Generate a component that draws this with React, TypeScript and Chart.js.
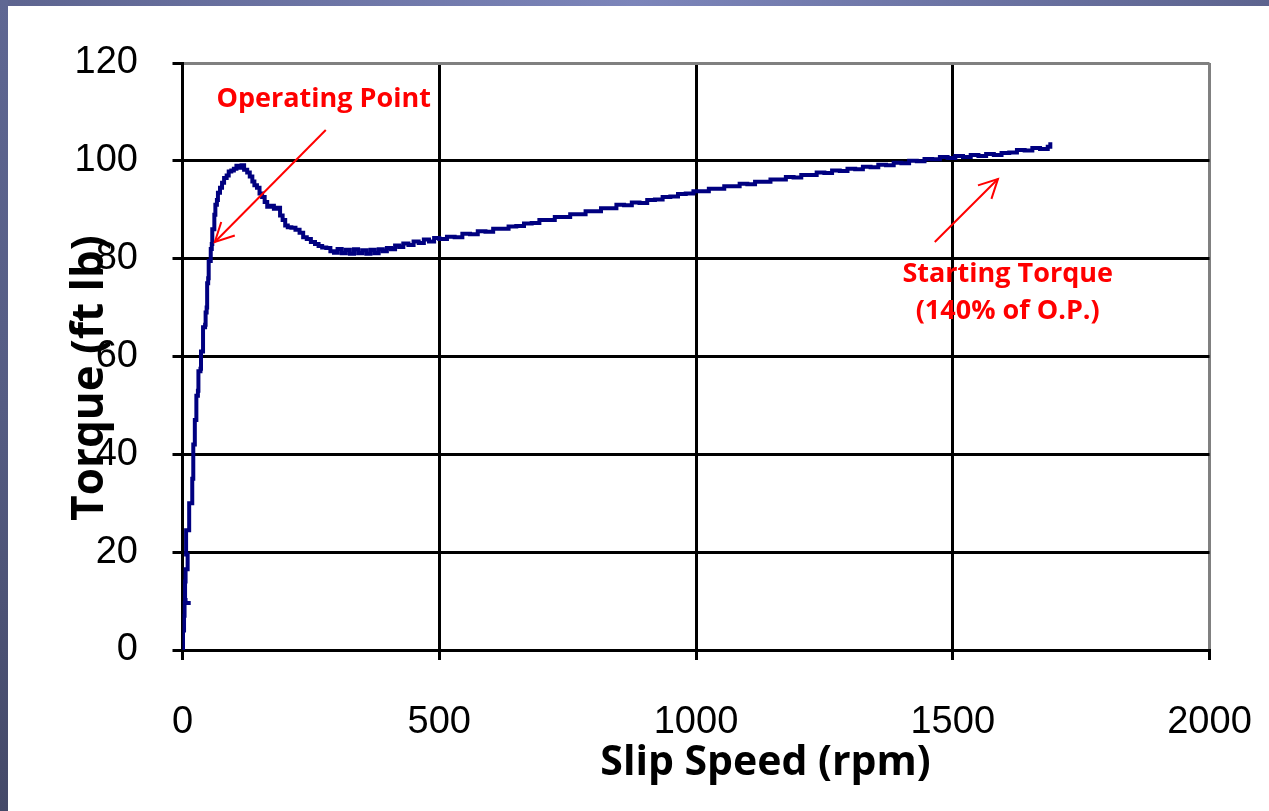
import React, { useEffect, useRef } from 'react';
import { Chart, registerables } from 'chart.js';

Chart.register(...registerables);

// ---- data ----
const slipSpeed: number[] = [
  0, 1, 3, 4, 16, 6, 5, 6, 10, 10, 7, 7, 13, 13, 19, 19, 21, 21, 24, 24,
  27, 27, 30, 31, 35, 36, 40, 40, 44, 45, 47, 48, 50, 51, 55, 55, 57, 58, 62, 62,
  64, 67, 69, 73, 77, 81, 86, 90, 95, 100, 105, 110, 115, 120, 126, 131, 136, 140, 145, 150,
  155, 160, 165, 172, 178, 184, 190, 195, 200, 205, 212, 220, 228, 235, 242, 250, 258, 265, 272, 280,
  288, 295, 302, 310, 318, 326, 334, 342, 350, 358, 366, 374, 382, 390, 398, 406, 414, 422, 430, 440,
  450, 460, 470, 480, 490, 500, 515, 530, 545, 560, 575, 590, 605, 620, 635, 650, 665, 680, 695, 710,
  725, 740, 755, 770, 785, 800, 815, 830, 845, 860, 875, 890, 905, 920, 935, 950, 965, 980, 995, 1010,
  1025, 1040, 1055, 1070, 1085, 1100, 1115, 1130, 1145, 1160, 1175, 1190, 1205, 1220, 1235, 1250, 1265, 1280, 1295, 1310,
  1325, 1340, 1355, 1370, 1385, 1400, 1415, 1430, 1445, 1460, 1475, 1490, 1505, 1520, 1535, 1550, 1565, 1580, 1595, 1610,
  1625, 1640, 1655, 1670, 1685, 1690,
];
const torque: number[] = [
  0, 4, 7, 9.6, 9.6, 10.2, 14, 16.5, 17, 19.5, 21, 24.5, 25, 30, 31, 35, 38, 42, 43, 47,
  48, 52, 53, 57, 57.5, 61, 62, 66, 66.5, 69, 70, 75, 76, 79.5, 80, 82, 83, 86, 87, 89,
  91, 92, 93.5, 94.5, 95.5, 96.5, 97, 97.8, 98, 98.4, 99, 98.6, 99.1, 98.2, 97.6, 96.8, 95.8, 95, 94.5, 93.3,
  92.6, 91.6, 90.6, 90.8, 90.2, 90.4, 88.8, 87.9, 86.8, 86.4, 86.3, 85.9, 85.3, 84.4, 84, 83.4, 83, 82.6, 82.3, 82.2,
  81.5, 81.2, 82, 81.1, 81.8, 81, 81.9, 81.1, 81.7, 81, 81.8, 81.1, 81.9, 81.5, 82.2, 81.9, 82.7, 82.4, 83.1, 82.8,
  83.5, 83.2, 83.9, 83.5, 84.2, 84.0, 84.5, 84.4, 85.1, 85.0, 85.6, 85.5, 86.1, 86.1, 86.6, 86.7, 87.2, 87.3, 87.9, 87.9,
  88.5, 88.5, 89.1, 89.1, 89.7, 89.7, 90.3, 90.3, 91.0, 90.9, 91.5, 91.4, 92.0, 92.1, 92.6, 92.7, 93.2, 93.3, 93.8, 93.8,
  94.3, 94.3, 94.8, 94.8, 95.3, 95.2, 95.7, 95.7, 96.2, 96.2, 96.7, 96.6, 97.1, 97.1, 97.6, 97.5, 98.0, 97.9, 98.4, 98.3,
  98.8, 98.7, 99.2, 99.1, 99.6, 99.5, 100.0, 99.9, 100.4, 100.3, 100.8, 100.6, 101.0, 100.8, 101.2, 101.0, 101.4, 101.2, 101.6, 101.7,
  102.2, 102.1, 102.6, 102.4, 102.9, 103.8,
];
const xTicks: number[] = [0, 500, 1000, 1500, 2000];
const yTicks: number[] = [0, 20, 40, 60, 80, 100, 120];

const xTitle = 'Slip Speed (rpm)';
const yTitle = 'Torque (ft lb)';

// annotation arrows in data units: [from, to(tip)]
const opArrowFrom: number[] = [279, 106.3];
const opArrowTo: number[] = [63, 83.4];
const stArrowFrom: number[] = [1465, 83.4];
const stArrowTo: number[] = [1588, 96.3];
const opLabel: string[] = ['Operating Point'];
const opLabelAt: number[] = [275, 111];
const stLabel: string[] = ['Starting Torque', '(140% of O.P.)'];
const stLabelAt: number[] = [1607, 75.2];

const TICK_FONT = '"Liberation Sans", Arial, sans-serif';
const TITLE_FONT = '"Open Sans", "Noto Sans", sans-serif';

const overlayPlugin = {
  id: 'overlay',
  afterDraw(chart: any) {
    const { ctx, scales } = chart;
    const x = scales.x;
    const y = scales.y;
    const area = chart.chartArea;
    ctx.save();

    const drawArrow = (from: number[], to: number[]) => {
      const x0 = x.getPixelForValue(from[0]);
      const y0 = y.getPixelForValue(from[1]);
      const x1 = x.getPixelForValue(to[0]);
      const y1 = y.getPixelForValue(to[1]);
      ctx.strokeStyle = '#ff0000';
      ctx.lineWidth = 2;
      ctx.lineCap = 'butt';
      ctx.beginPath();
      ctx.moveTo(x0, y0);
      ctx.lineTo(x1, y1);
      ctx.stroke();
      const ang = Math.atan2(y0 - y1, x0 - x1);
      const len = 21;
      const spread = (27 * Math.PI) / 180;
      ctx.beginPath();
      ctx.moveTo(x1 + len * Math.cos(ang - spread), y1 + len * Math.sin(ang - spread));
      ctx.lineTo(x1, y1);
      ctx.lineTo(x1 + len * Math.cos(ang + spread), y1 + len * Math.sin(ang + spread));
      ctx.stroke();
    };
    drawArrow(opArrowFrom, opArrowTo);
    drawArrow(stArrowFrom, stArrowTo);

    ctx.fillStyle = '#ff0000';
    ctx.font = `bold 27px ${TITLE_FONT}`;
    ctx.textAlign = 'center';
    ctx.textBaseline = 'alphabetic';
    opLabel.forEach((t, i) => {
      ctx.fillText(t, x.getPixelForValue(opLabelAt[0]), y.getPixelForValue(opLabelAt[1]) + i * 37);
    });
    stLabel.forEach((t, i) => {
      ctx.fillText(t, x.getPixelForValue(stLabelAt[0]), y.getPixelForValue(stLabelAt[1]) + i * 37);
    });

    // axis titles
    ctx.fillStyle = '#000000';
    ctx.font = `bold 41px ${TITLE_FONT}`;
    ctx.textAlign = 'center';
    ctx.textBaseline = 'alphabetic';
    ctx.fillText(xTitle, area.left + 583, area.bottom + 125);

    ctx.save();
    ctx.translate(area.left - 80, area.top + 315);
    ctx.rotate(-Math.PI / 2);
    ctx.font = `bold 44px ${TITLE_FONT}`;
    ctx.fillText(yTitle, 0, 0);
    ctx.restore();

    ctx.restore();
  },
};

export default function App() {
  const canvasRef = useRef<HTMLCanvasElement | null>(null);

  useEffect(() => {
    const canvas = canvasRef.current;
    if (!canvas) return;
    const points = slipSpeed.map((s, i) => ({ x: s, y: torque[i] }));
    const chart = new Chart(canvas, {
      type: 'line',
      data: {
        datasets: [
          {
            label: 'Torque',
            data: points,
            borderColor: '#000080',
            backgroundColor: '#000080',
            borderWidth: 4,
            pointRadius: 0,
            stepped: true,
            fill: false,
          },
        ],
      },
      options: {
        responsive: false,
        animation: false,
        events: [],
        layout: { padding: { left: 0, right: 59.5, top: 63, bottom: 0 } },
        plugins: {
          legend: { display: false },
          tooltip: { enabled: false },
          title: { display: false },
        },
        scales: {
          x: {
            type: 'linear',
            position: 'bottom',
            min: 0,
            max: 2000,
            afterBuildTicks: (s: any) => {
              s.ticks = xTicks.map((v) => ({ value: v }));
            },
            afterFit: (s: any) => {
              s.height = 161;
              s.paddingLeft = 0;
              s.paddingRight = 0;
            },
            ticks: {
              autoSkip: false,
              maxRotation: 0,
              color: '#000000',
              padding: 40,
              font: { family: TICK_FONT, size: 38 },
              callback: (v: any) => String(v),
            },
            grid: {
              color: (c: any) => (c.tick && c.tick.value === 2000 ? '#808080' : '#000000'),
              tickColor: '#000000',
              lineWidth: 3,
              tickLength: 10,
            },
            border: { color: '#000000', width: 3 },
          },
          y: {
            type: 'linear',
            min: 0,
            max: 120,
            afterBuildTicks: (s: any) => {
              s.ticks = yTicks.map((v) => ({ value: v }));
            },
            afterFit: (s: any) => {
              s.width = 182.5;
              s.paddingTop = 0;
              s.paddingBottom = 0;
            },
            ticks: {
              color: '#000000',
              padding: 34.5,
              font: { family: TICK_FONT, size: 38 },
              callback: (v: any) => String(v),
            },
            grid: {
              color: (c: any) => (c.tick && c.tick.value === 120 ? '#808080' : '#000000'),
              tickColor: '#000000',
              lineWidth: 3,
              tickLength: 10,
            },
            border: { color: '#000000', width: 3 },
          },
        },
      },
      plugins: [overlayPlugin],
    });
    return () => chart.destroy();
  }, []);

  return (
    <div style={{ position: 'fixed', left: 0, top: 0, width: 1269, height: 811, background: '#ffffff', overflow: 'hidden' }}>
      <div
        style={{
          position: 'absolute',
          left: 0,
          top: 0,
          width: 1269,
          height: 6,
          background: 'linear-gradient(to right, #5d648f 0%, #7c85ba 50%, #5d648f 100%)',
        }}
      />
      <div
        style={{
          position: 'absolute',
          left: 0,
          top: 0,
          width: 8,
          height: 811,
          background: 'linear-gradient(to bottom, #5f6793 0%, #555c83 50%, #444968 100%)',
        }}
      />
      <canvas ref={canvasRef} width={1269} height={811} style={{ position: 'absolute', left: 0, top: 0 }} />
    </div>
  );
}
